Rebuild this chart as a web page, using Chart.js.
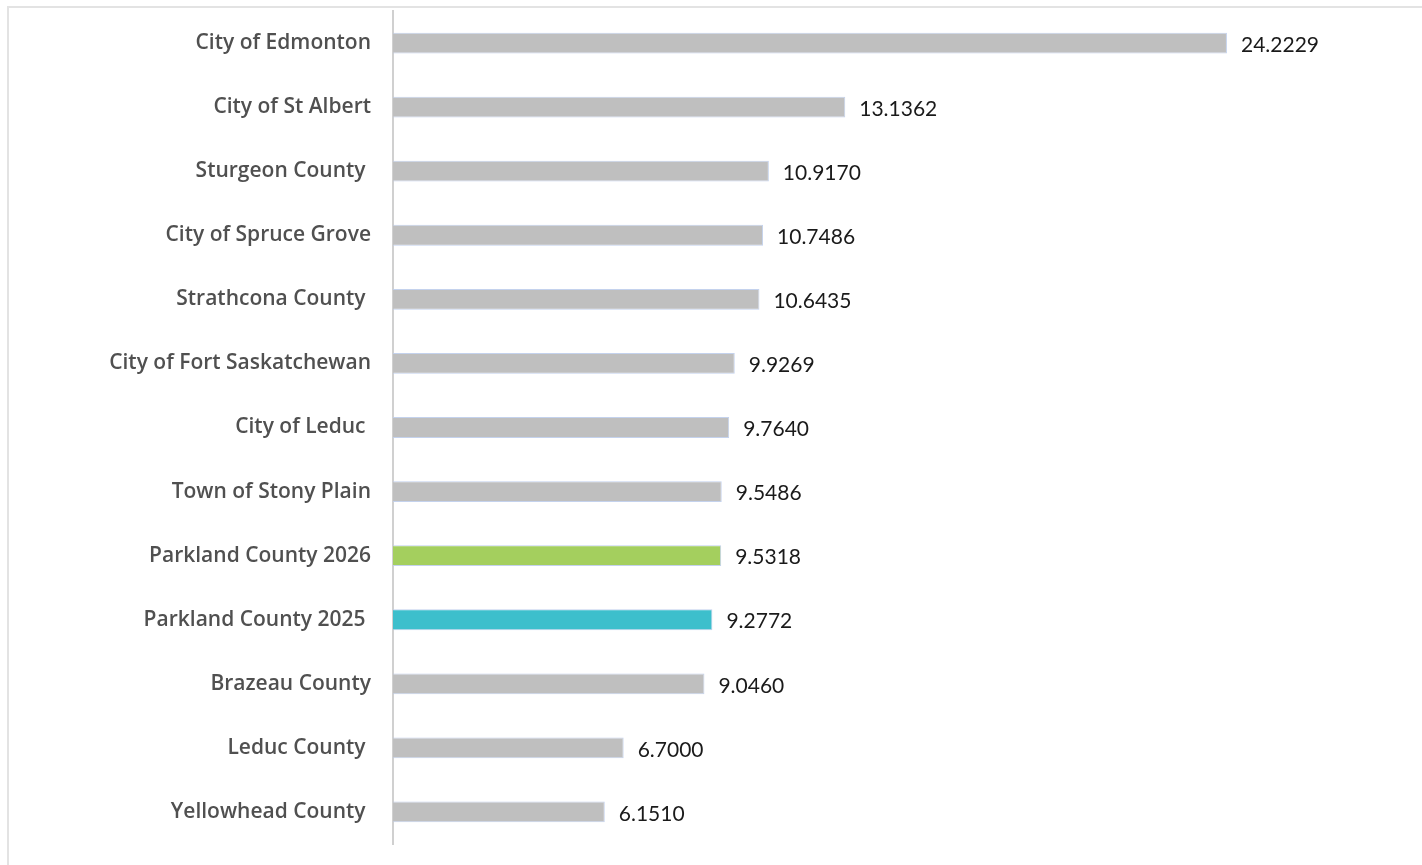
<!DOCTYPE html>
<html>
<head>
<meta charset="utf-8">
<script src="https://cdn.jsdelivr.net/npm/chart.js@4/dist/chart.umd.min.js"></script>
<style>
html,body{margin:0;padding:0;background:#fff;overflow:hidden;}
#wrap{position:absolute;left:0;top:0;width:1422px;height:865px;}
#frame{position:absolute;left:7px;top:6px;width:1430px;height:880px;border:2px solid #e3e3e3;box-sizing:border-box;}
canvas{position:absolute;left:0;top:0;}
</style>
</head>
<body>
<div id="wrap">
<div id="frame"></div>
<canvas id="c" width="1422" height="865"></canvas>
</div>
<script>
const categories = [
  "City of Edmonton",
  "City of St Albert",
  "Sturgeon County ",
  "City of Spruce Grove",
  "Strathcona County ",
  "City of Fort Saskatchewan",
  "City of Leduc ",
  "Town of Stony Plain",
  "Parkland County 2026",
  "Parkland County 2025 ",
  "Brazeau County",
  "Leduc County ",
  "Yellowhead County "
];
const values = [24.2229, 13.1362, 10.9170, 10.7486, 10.6435, 9.9269, 9.7640, 9.5486, 9.5318, 9.2772, 9.0460, 6.7000, 6.1510];
const barColors = ["#BFBFBF","#BFBFBF","#BFBFBF","#BFBFBF","#BFBFBF","#BFBFBF","#BFBFBF","#BFBFBF","#A4CF5E","#3DBFCC","#BFBFBF","#BFBFBF","#BFBFBF"];

const valueLabels = {
  id: 'valueLabels',
  afterDatasetsDraw(chart) {
    const ctx = chart.ctx;
    const meta = chart.getDatasetMeta(0);
    ctx.save();
    ctx.font = '21px Lato, "Open Sans", sans-serif';
    ctx.fillStyle = '#1a1a1a';
    ctx.textAlign = 'left';
    ctx.textBaseline = 'middle';
    meta.data.forEach((bar, i) => {
      ctx.fillText(values[i].toFixed(4), bar.x + 14, bar.y + 2);
    });
    ctx.restore();
  }
};

new Chart(document.getElementById('c'), {
  type: 'bar',
  data: {
    labels: categories,
    datasets: [{
      data: values,
      backgroundColor: barColors,
      borderColor: 'rgba(190,205,235,0.9)',
      borderWidth: 1,
      barPercentage: 0.65,
      categoryPercentage: 0.5
    }]
  },
  options: {
    indexAxis: 'y',
    responsive: false,
    animation: false,
    layout: { padding: { left: 10, right: 65, top: 11, bottom: 21 } },
    plugins: { legend: { display: false }, tooltip: { enabled: false } },
    scales: {
      x: { display: false, min: 0, max: 28 },
      y: {
        afterFit(scale) { scale.width = 383; scale.paddingTop = 0; scale.paddingBottom = 0; },
        grid: { display: false, drawTicks: false },
        border: { display: true, color: '#d0d0d0', width: 2 },
        ticks: {
          padding: 22,
          color: '#505050',
          font: { family: '"Open Sans", Lato, sans-serif', size: 21, weight: '600' }
        }
      }
    }
  },
  plugins: [valueLabels]
});
</script>
</body>
</html>
